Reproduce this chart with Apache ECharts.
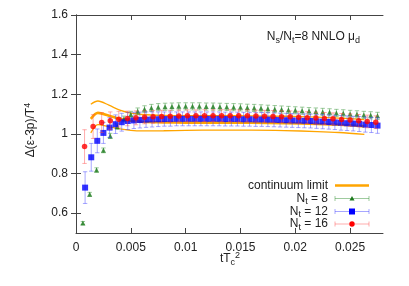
<!DOCTYPE html>
<html>
<head>
<meta charset="utf-8">
<script src="https://cdn.jsdelivr.net/npm/echarts@6/dist/echarts.min.js"></script>
<style>html,body{margin:0;padding:0;background:#fff}#c{width:409px;height:286px}</style>
</head>
<body>
<div id="c"></div>
<script>
// ---- data ----
const nt8X = [0.000625,0.00125,0.001875,0.0025,0.003125,0.00375,0.004375,0.005,0.005625,0.00625,0.006875,0.0075,0.008125,0.00875,0.009375,0.01,0.010625,0.01125,0.011875,0.0125,0.013125,0.01375,0.014375,0.015,0.015625,0.01625,0.016875,0.0175,0.018125,0.01875,0.019375,0.02,0.020625,0.02125,0.021875,0.0225,0.023125,0.02375,0.024375,0.025,0.025625,0.02625,0.026875,0.0275];
const nt8Y = [0.550,0.695,0.818,0.917,0.990,1.037,1.075,1.098,1.114,1.125,1.131,1.135,1.137,1.138,1.139,1.139,1.139,1.139,1.138,1.138,1.137,1.136,1.135,1.134,1.132,1.131,1.129,1.127,1.125,1.123,1.121,1.119,1.117,1.115,1.113,1.111,1.109,1.106,1.104,1.101,1.099,1.096,1.094,1.091];
const nt8E = [0.008,0.010,0.011,0.012,0.013,0.014,0.015,0.016,0.017,0.017,0.018,0.018,0.018,0.018,0.018,0.018,0.018,0.018,0.018,0.018,0.018,0.018,0.018,0.018,0.018,0.018,0.018,0.018,0.018,0.018,0.018,0.018,0.018,0.018,0.018,0.018,0.018,0.018,0.018,0.018,0.018,0.018,0.018,0.018];

const nt12X = [0.00083,0.00139,0.00194,0.0025,0.00306,0.00361,0.00417,0.00472,0.00528,0.00583,0.00639,0.00694,0.0075,0.00806,0.00861,0.00917,0.00972,0.01028,0.01083,0.01139,0.01194,0.0125,0.01306,0.01361,0.01417,0.01472,0.01528,0.01583,0.01639,0.01694,0.0175,0.01806,0.01861,0.01917,0.01972,0.02028,0.02083,0.02139,0.02194,0.0225,0.02306,0.02361,0.02417,0.02472,0.02528,0.02583,0.02639,0.02694,0.0275];
const nt12Y = [0.729,0.882,0.965,1.005,1.032,1.049,1.059,1.065,1.068,1.070,1.072,1.073,1.074,1.075,1.075,1.076,1.076,1.076,1.076,1.076,1.076,1.076,1.076,1.075,1.075,1.075,1.074,1.074,1.073,1.073,1.072,1.071,1.070,1.069,1.068,1.067,1.066,1.065,1.063,1.062,1.060,1.058,1.056,1.054,1.052,1.050,1.047,1.045,1.042];
const nt12E = [0.080,0.070,0.060,0.053,0.050,0.047,0.045,0.043,0.041,0.040,0.039,0.038,0.037,0.036,0.036,0.035,0.035,0.035,0.035,0.035,0.035,0.035,0.035,0.035,0.035,0.035,0.035,0.035,0.035,0.035,0.035,0.035,0.035,0.035,0.035,0.035,0.035,0.035,0.035,0.036,0.036,0.036,0.037,0.037,0.037,0.038,0.038,0.038,0.039];

const nt16X = [0.00078,0.00156,0.00234,0.003125,0.0039,0.00469,0.00547,0.00625,0.00703,0.00781,0.00859,0.00938,0.01016,0.01094,0.01172,0.0125,0.01328,0.01406,0.01484,0.01563,0.01641,0.01719,0.01797,0.01875,0.01953,0.02031,0.02109,0.02188,0.02266,0.02344,0.02422,0.025,0.02578,0.02656,0.02734];
const nt16Y = [0.936,1.037,1.057,1.067,1.074,1.078,1.081,1.084,1.086,1.088,1.089,1.090,1.091,1.091,1.092,1.092,1.092,1.092,1.091,1.091,1.090,1.089,1.088,1.087,1.086,1.084,1.082,1.080,1.078,1.076,1.073,1.070,1.067,1.063,1.059];
const nt16E = [0.085,0.060,0.050,0.044,0.040,0.037,0.035,0.033,0.032,0.031,0.030,0.030,0.030,0.030,0.030,0.030,0.030,0.030,0.030,0.030,0.030,0.030,0.030,0.030,0.030,0.030,0.030,0.030,0.030,0.030,0.030,0.031,0.031,0.032,0.032];

const contX     = [0.00135,0.002,0.003,0.004,0.005,0.006,0.008,0.010,0.013,0.016,0.019,0.022,0.024,0.0263];
const contUpper = [1.150,1.166,1.145,1.120,1.105,1.098,1.093,1.092,1.092,1.091,1.089,1.085,1.080,1.072];
const contMid   = [1.076,1.106,1.092,1.076,1.066,1.061,1.058,1.057,1.057,1.056,1.054,1.050,1.046,1.038];
const contLower = [1.005,1.047,1.036,1.025,1.018,1.015,1.016,1.018,1.019,1.019,1.017,1.012,1.007,0.998];

const xTicks = [0,0.005,0.01,0.015,0.02,0.025];
const yTicks = [0.6,0.8,1.0,1.2,1.4,1.6];

// ---- helpers ----
const FONT = "'Liberation Sans', Arial, sans-serif";
const zip2 = (a,b) => a.map((v,i)=>[v,b[i]]);
const zip3 = (a,b,c) => a.map((v,i)=>[v,b[i],c[i]]);

function errRender(color){
  return function(params, api){
    const x = api.value(0), y = api.value(1), e = api.value(2);
    const lo = api.coord([x, y - e]), hi = api.coord([x, y + e]);
    const cw = 2.2;
    const st = {stroke: color, lineWidth: 1};
    return {type:'group', children:[
      {type:'line', shape:{x1:lo[0],y1:lo[1],x2:hi[0],y2:hi[1]}, style:st},
      {type:'line', shape:{x1:lo[0]-cw,y1:lo[1],x2:lo[0]+cw,y2:lo[1]}, style:st},
      {type:'line', shape:{x1:hi[0]-cw,y1:hi[1],x2:hi[0]+cw,y2:hi[1]}, style:st}
    ]};
  };
}

const ORANGE = '#ffa500';
const GREEN = '#1d7a1d', GREEN_E = 'rgba(40,140,40,0.45)';
const BLUE = '#0000ff',  BLUE_E = 'rgba(60,60,255,0.45)';
const RED = '#ff0000',   RED_E = 'rgba(255,70,70,0.45)';

const axisCommon = {
  type:'value',
  axisLine:{show:true, lineStyle:{color:'#444', width:1}},
  splitLine:{show:false},
  axisTick:{show:true, inside:true, length:5, lineStyle:{color:'#444'}},
  axisLabel:{color:'#222', fontFamily:FONT, fontSize:12}
};
const fmt = v => String(parseFloat(Number(v).toFixed(4)));

const chart = echarts.init(document.getElementById('c'), null, {renderer:'canvas'});
const option = {
  animation:false,
  backgroundColor:'#fff',
  grid:{left:76, right:26, top:15, bottom:53},
  xAxis:[
    Object.assign({}, axisCommon, {min:0, max:0.028, position:'bottom',
      axisTick:Object.assign({}, axisCommon.axisTick, {customValues:xTicks}),
      axisLabel:Object.assign({}, axisCommon.axisLabel, {customValues:xTicks, formatter:fmt, margin:9})}),
    Object.assign({}, axisCommon, {min:0, max:0.028, position:'top',
      axisTick:Object.assign({}, axisCommon.axisTick, {customValues:xTicks}),
      axisLabel:{show:false}})
  ],
  yAxis:[
    Object.assign({}, axisCommon, {min:0.5, max:1.6, position:'left',
      axisTick:Object.assign({}, axisCommon.axisTick, {customValues:yTicks}),
      axisLabel:Object.assign({}, axisCommon.axisLabel, {customValues:yTicks, formatter:fmt, margin:8})}),
    Object.assign({}, axisCommon, {min:0.5, max:1.6, position:'right',
      axisTick:Object.assign({}, axisCommon.axisTick, {customValues:yTicks}),
      axisLabel:{show:false}})
  ],
  series:[
    {type:'line', data:zip2(contX, contUpper), smooth:0.3, showSymbol:false, lineStyle:{color:ORANGE, width:1.3}, z:1},
    {type:'line', data:zip2(contX, contMid), smooth:0.3, showSymbol:false, lineStyle:{color:ORANGE, width:2.6}, z:1},
    {type:'line', data:zip2(contX, contLower), smooth:0.3, showSymbol:false, lineStyle:{color:ORANGE, width:1.3}, z:1},
    {type:'custom', data:zip3(nt8X, nt8Y, nt8E), renderItem:errRender(GREEN_E), z:2},
    {type:'scatter', data:zip2(nt8X, nt8Y), symbol:'triangle', symbolSize:5, itemStyle:{color:GREEN}, z:3},
    {type:'custom', data:zip3(nt12X, nt12Y, nt12E), renderItem:errRender(BLUE_E), z:4},
    {type:'scatter', data:zip2(nt12X, nt12Y), symbol:'rect', symbolSize:6, itemStyle:{color:BLUE}, z:5},
    {type:'custom', data:zip3(nt16X, nt16Y, nt16E), renderItem:errRender(RED_E), z:6},
    {type:'scatter', data:zip2(nt16X, nt16Y), symbol:'circle', symbolSize:5.5, itemStyle:{color:RED}, z:7}
  ],
  graphic:[]
};

// text helpers
const richBase = {
  a:{fontFamily:FONT, fontSize:12, color:'#222', lineHeight:16},
  s:{fontFamily:FONT, fontSize:9, color:'#222', lineHeight:16, padding:[7,0,0,0]},
  p:{fontFamily:FONT, fontSize:9, color:'#222', lineHeight:16, padding:[0,0,7,0]}
};
function rtext(x, y, txt, align, rot){
  return {type:'text', x:x, y:y, rotation:rot||0, z:100,
    style:{text:txt, rich:richBase, align:align||'left', verticalAlign:'middle', fill:'#222', font:'12px '+FONT}};
}
const G = option.graphic;
// axis titles
G.push(rtext(230, 259, '{a|tT}{s|c}{p|2}', 'center'));
G.push(rtext(31, 130, '{a|Δ(ε-3p)/T}{p|4}', 'center', Math.PI/2));
// annotation
G.push(rtext(360, 37, '{a|N}{s|s}{a|/N}{s|t}{a|=8 NNLO μ}{s|d}', 'right'));
// legend
const lx1 = 335, lx2 = 369, lxm = 352, ltx = 328;
const rows = [
  {y:185.5, txt:'{a|continuum limit}'},
  {y:198.5, txt:'{a|N}{s|t}{a| = 8}', col:GREEN, ecol:GREEN_E, sym:'tri'},
  {y:211.5, txt:'{a|N}{s|t}{a| = 12}', col:BLUE, ecol:BLUE_E, sym:'sq'},
  {y:224, txt:'{a|N}{s|t}{a| = 16}', col:RED, ecol:RED_E, sym:'ci'}
];
rows.forEach((r,i)=>{
  G.push(rtext(ltx, r.y, r.txt, 'right'));
  if(i===0){
    G.push({type:'line', z:100, shape:{x1:lx1,y1:r.y,x2:lx2,y2:r.y}, style:{stroke:ORANGE, lineWidth:2.6}});
  } else {
    G.push({type:'line', z:100, shape:{x1:lx1,y1:r.y,x2:lx2,y2:r.y}, style:{stroke:r.ecol, lineWidth:1}});
    G.push({type:'line', z:100, shape:{x1:lx1,y1:r.y-2.5,x2:lx1,y2:r.y+2.5}, style:{stroke:r.ecol, lineWidth:1}});
    G.push({type:'line', z:100, shape:{x1:lx2,y1:r.y-2.5,x2:lx2,y2:r.y+2.5}, style:{stroke:r.ecol, lineWidth:1}});
    if(r.sym==='tri') G.push({type:'polygon', z:101, shape:{points:[[lxm,r.y-2.5],[lxm-2.5,r.y+2],[lxm+2.5,r.y+2]]}, style:{fill:r.col}});
    if(r.sym==='sq') G.push({type:'rect', z:101, shape:{x:lxm-3,y:r.y-3,width:6,height:6}, style:{fill:r.col}});
    if(r.sym==='ci') G.push({type:'circle', z:101, shape:{cx:lxm,cy:r.y,r:2.7}, style:{fill:r.col}});
  }
});

chart.setOption(option);
</script>
</body>
</html>
